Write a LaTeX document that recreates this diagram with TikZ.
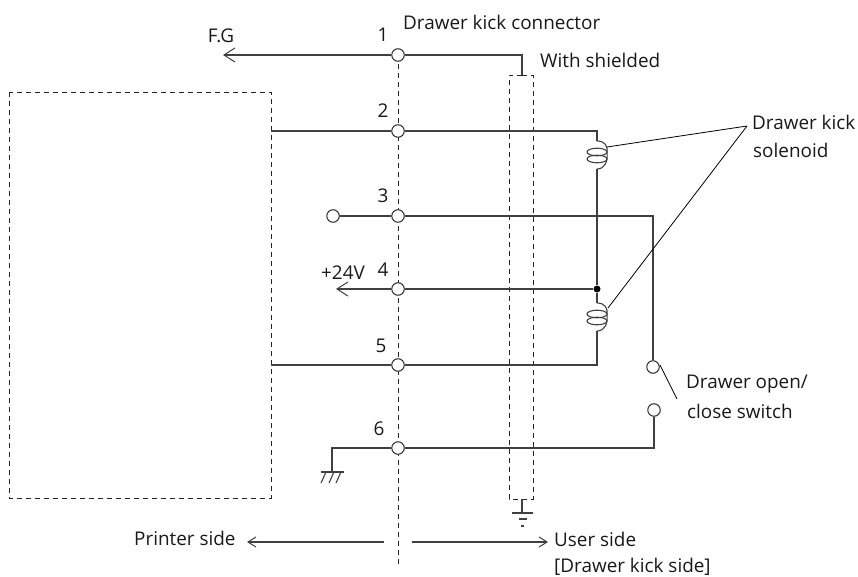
\documentclass[tikz,border=0pt]{standalone}
\usepackage{fontspec}
\setmainfont{Open Sans}
\usepackage{tikz}
\usetikzlibrary{
    positioning,           % Relative positioning
    arrows.meta,           % Modern arrow tips
    calc                   % Coordinate calculations
}
\tikzset{
    wire/.style={line width=1.1pt,draw=black!75},
    leader/.style={line width=0.8pt,draw=black},
    pin/.style={circle,draw=black!85,line width=1pt,fill=white,inner sep=0pt,minimum size=12.5pt},
    dashline/.style={line width=0.9pt,draw=black!85,dash pattern=on 5pt off 4pt},
    txt/.style={font=\fontsize{18.9pt}{22pt}\selectfont,inner sep=0pt,text=black!90,anchor=base},
    ltxt/.style={txt,anchor=base west},
    open/.style={-{Straight Barb[length=11pt,width=14pt,line width=1pt]}},
    sideopen/.style={-{Straight Barb[length=8pt,width=10pt,line width=1pt]}}
}
\newcommand{\coil}[2]{% x, top y
    \draw[wire] (#1,#2) .. controls (#1+8,#2) and (#1+11,#2+5) .. (#1+10,#2+12)
        .. controls (#1+11,#2+20) and (#1+8,#2+28) .. (#1,#2+28);
    \draw[wire] (#1,#2+11) ellipse (10 and 3.8);
    \draw[wire] (#1,#2+18) ellipse (10 and 3.8);
}
\begin{document}
\begin{tikzpicture}[x=1pt,y=-1pt]
    \useasboundingbox (0,0) rectangle (858,577);
    % dashed parts
    \draw[dashline] (9,92) rectangle (271,498);
    \draw[dashline] (398,55) -- (398,564);
    \draw[dashline] (522,75) -| (533,499) -- (509,499) |- (522,75);

    % connector pins
    \node[pin] (p1) at (398,55) {};
    \node[pin] (p2) at (398,131) {};
    \node[pin] (p3) at (398,216) {};
    \node[pin] (p4) at (398,289) {};
    \node[pin] (p5) at (398,365) {};
    \node[pin] (p6) at (398,448) {};
    \node[pin] (open3) at (333,216) {};
    \node[pin] (swa) at (653,367) {};
    \node[pin] (swb) at (654,410) {};
    \node[circle,fill=black,inner sep=0pt,minimum size=7pt] (dot) at (597,289) {};

    \coordinate (fg) at (223,55);
    \coordinate (shld) at (522,75);
    \coordinate (b2) at (271,131);
    \coordinate (b5) at (271,365);
    \coordinate (c1t) at (597,141);
    \coordinate (c1b) at (597,169);
    \coordinate (c2t) at (597,303);
    \coordinate (c2b) at (597,331);
    \coordinate (v24) at (336,289);
    \coordinate (gnd) at (332,472);
    \coordinate (sgnd) at (522,513);
    \coordinate (tip) at (747,126);

    % wires
    \draw[wire,open] (p1) -- (fg);
    \draw[wire] (p1) -| (shld);
    \draw[wire] (b2) -- (p2);
    \draw[wire] (p2) -| (c1t);
    \draw[wire] (open3) -- (p3);
    \draw[wire] (p3) -| (swa);
    \draw[wire,open] (p4) -- (v24);
    \draw[wire] (p4) -- (dot);
    \draw[wire] (c1b) -- (dot) -- (c2t);
    \draw[wire] (b5) -- (p5);
    \draw[wire] (p5) -| (c2b);
    \draw[wire] (p6) -| (swb);
    \draw[wire] (p6) -| (gnd);

    \coil{597}{141}
    \coil{597}{303}

    % switch arm and leader lines
    \draw[leader] (660,365) -- (677,399);
    \draw[leader] (607,147) -- (tip);
    \draw[leader] (608,308) -- (tip);

    % grounds
    \draw[wire] (321,472) -- (344,472);
    \foreach \gx in {321,329,336} {
        \draw[wire] (\gx,483) -- (\gx+5,472);
    }
    \draw[wire] (522,499) -- (sgnd);
    \draw[wire] (512,513) -- (533,513);
    \draw[wire] (519,519) -- (527,519);
    \draw[wire] (521,526) -- (524,526);

    % side arrows
    \coordinate (pl) at (384,542);
    \coordinate (pr) at (412,542);
    \coordinate (ar) at (247,542);
    \coordinate (al) at (548,542);
    \draw[wire,sideopen] (pl) -- (ar);
    \draw[wire,sideopen] (pr) -- (al);

    % labels
    \node[txt] (n1) at (383,42) {1};
    \node[txt] (n2) at (383,118) {2};
    \node[txt] (n3) at (383,203) {3};
    \node[txt] (n4) at (383,276) {4};
    \node[txt] (n5) at (381,352) {5};
    \node[txt] (n6) at (379,435) {6};
    \node[ltxt] (title) at (403,30) {Drawer kick connector};
    \node[ltxt] (shielded) at (540,68) {With shielded};
    \node[txt] (fglab) at (221,43) {F.G};
    \node[txt] (v24lab) at (343,279) {+24V};
    \node[ltxt] (sol1) at (752,130) {Drawer kick};
    \node[ltxt] (sol2) at (753,158) {solenoid};
    \node[ltxt] (sw1) at (686,388) {Drawer open/};
    \node[ltxt] (sw2) at (687,418) {close switch};
    \node[ltxt] (pside) at (134,545) {Printer side};
    \node[ltxt] (uside) at (554,546) {User side};
    \node[ltxt] (dside) at (554,572) {[Drawer kick side]};
\end{tikzpicture}
\end{document}
